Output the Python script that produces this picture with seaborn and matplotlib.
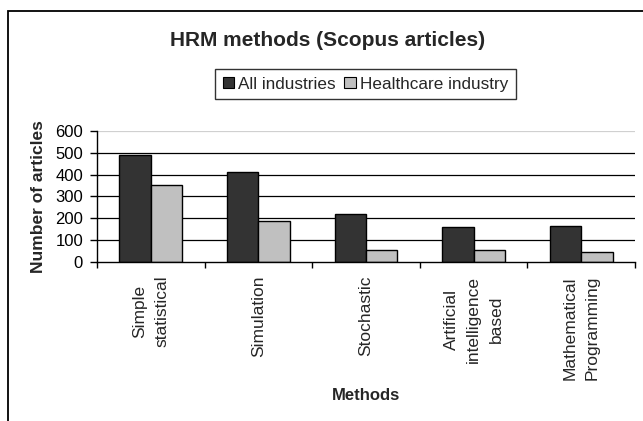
import matplotlib
matplotlib.use("Agg")
import matplotlib.pyplot as plt
import matplotlib.patches as mpatches
from matplotlib.ticker import FixedLocator
import seaborn as sns
import pandas as pd

categories = ["Simple\nstatistical", "Simulation", "Stochastic",
              "Artificial\nintelligence\nbased", "Mathematical\nProgramming"]
all_industries = [490, 410, 220, 160, 165]
healthcare = [350, 185, 55, 55, 45]
series_names = ["All industries", "Healthcare industry"]
yticks = [0, 100, 200, 300, 400, 500, 600]

df = pd.DataFrame({
    "Method": categories * 2,
    "Series": [series_names[0]] * len(categories) + [series_names[1]] * len(categories),
    "Count": all_industries + healthcare,
})

sns.set_style("white")
plt.rcParams["font.family"] = ["Liberation Sans", "DejaVu Sans"]

W, H = 643, 421
fig = plt.figure(figsize=(W / 100, H / 100), dpi=100)
ax = fig.add_axes([97 / W, 1 - 261.7 / H, (635 - 97) / W, (261.7 - 131) / H])

sns.barplot(data=df, x="Method", y="Count", hue="Series", order=categories,
            hue_order=series_names,
            palette={series_names[0]: "#333333", series_names[1]: "#C0C0C0"},
            width=0.585, edgecolor="black", linewidth=1.0, ax=ax, legend=False,
            errorbar=None, saturation=1)

ax.set_ylim(0, 600)
ax.set_xlim(-0.5, len(categories) - 0.5)
ax.set_yticks(yticks)
ax.tick_params(axis="y", labelsize=12, length=5, width=1, direction="out",
               pad=5, left=True, colors="black")
ax.tick_params(axis="x", which="major", length=0, pad=10, labelsize=12.5)
ax.xaxis.set_minor_locator(FixedLocator([i - 0.5 for i in range(len(categories) + 1)]))
ax.tick_params(axis="x", which="minor", length=4, width=1, direction="out",
               bottom=True, color="black")
for lbl in ax.get_xticklabels():
    lbl.set_rotation(90)
    lbl.set_multialignment("center")
    lbl.set_linespacing(1.62)

# gridlines
for y in yticks[1:]:
    ax.axhline(y, color="#d0d0d0" if y == 600 else "black", lw=0.9, zorder=0)

for s in ["top", "right"]:
    ax.spines[s].set_visible(False)
for s in ["left", "bottom"]:
    ax.spines[s].set_color("black")
    ax.spines[s].set_linewidth(1.0)

ax.set_ylabel("Number of articles", fontsize=12.5, fontweight="bold", labelpad=7)
ax.set_xlabel("Methods", fontsize=12, fontweight="bold", labelpad=6)

fig.text(327.5 / W, 1 - 40 / H, "HRM methods (Scopus articles)", fontsize=15,
         fontweight="bold", ha="center", va="center")

handles = [mpatches.Patch(facecolor="#333333", edgecolor="black", lw=0.8),
           mpatches.Patch(facecolor="#C0C0C0", edgecolor="black", lw=0.8)]
leg = fig.legend(handles, series_names, loc="upper center",
                 bbox_to_anchor=(365.5 / W, 1 - 69 / H), ncol=2, fontsize=12.3,
                 frameon=True, fancybox=False, handlelength=0.65, handleheight=0.65,
                 handletextpad=0.25, columnspacing=0.5, borderpad=0.45,
                 borderaxespad=0)
leg.get_frame().set_edgecolor("black")
leg.get_frame().set_linewidth(1.0)

# outer chart border (continues past the image on right/bottom)
fig.patches.append(mpatches.Rectangle((8 / W, -0.1), 1.2, 1.1 - 11 / H,
                                      transform=fig.transFigure, fill=False,
                                      edgecolor="black", lw=1.3))

fig.savefig("out.png", dpi=100)
